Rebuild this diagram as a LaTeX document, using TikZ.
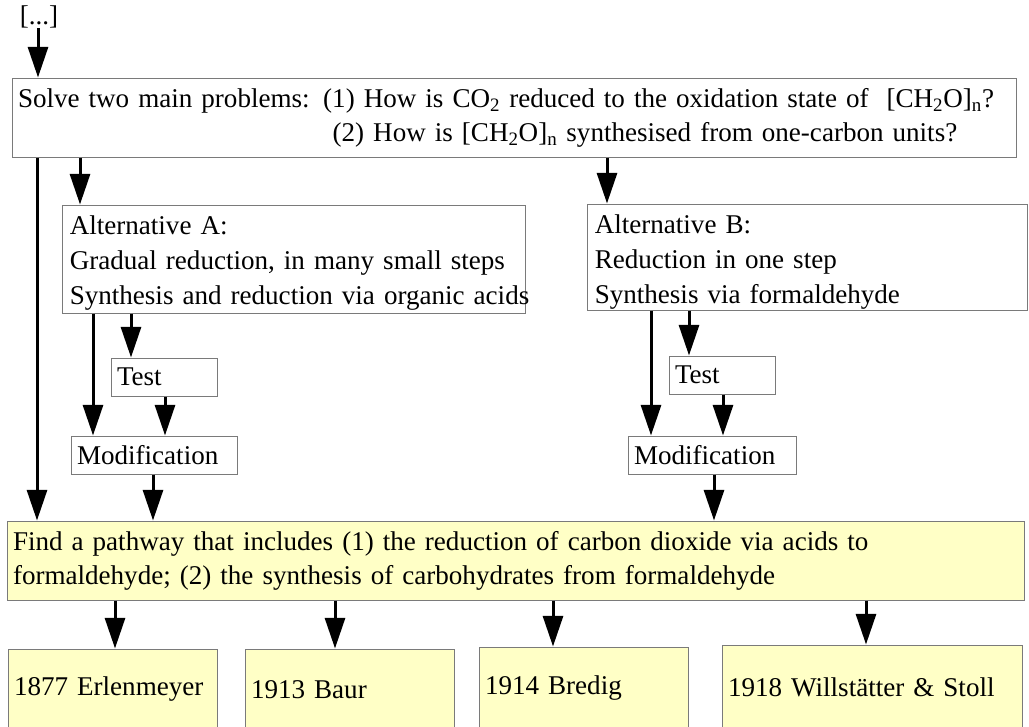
\documentclass[tikz,border=0pt]{standalone}
\usepackage{fontspec}
\setmainfont{Liberation Serif}
\usetikzlibrary{arrows.meta,calc}
\definecolor{boxfill}{HTML}{FFFFC6}
\definecolor{boxline}{HTML}{7A7A7A}
\newcommand{\oneline}[1]{\mbox{#1}}
\begin{document}
\begin{tikzpicture}[x=0.75pt,y=-0.75pt,
  font=\fontsize{20.3pt}{25.5pt}\selectfont,
  box/.style={draw=boxline, line width=0.75pt, fill=white, inner xsep=4.5pt, inner ysep=0pt, anchor=center,
    execute at begin node={\raggedright}},
  ybox/.style={box, fill=boxfill},
  inbox/.style={anchor=north west, inner sep=0pt, text width=330pt, font=\fontsize{20.3pt}{26.25pt}\selectfont,
    execute at begin node={\raggedright}},
  arr/.style={line width=2.25pt, -{Triangle[length=23pt,width=15pt]}}]
\useasboundingbox (0,0) rectangle (1029,726);
\fill[white] (0,0) rectangle (1029,726);

\node[inner sep=0pt] (dots) at (39,17) {[...]};

\node[box, minimum width=753pt, minimum height=59.25pt, text width=744pt] (top) at (514,117.5)
 {\oneline{Solve two main problems: (1) How is CO\textsubscript{2} reduced to the oxidation state of\ \ [CH\textsubscript{2}O]\textsubscript{n}?}\\
  \oneline{\hspace*{236pt}(2) How is [CH\textsubscript{2}O]\textsubscript{n} synthesised from one-carbon units?}};

\node[box, minimum width=347.25pt, minimum height=81pt] (altA) at (293.5,259) {};
\node[inbox] (altAtext) at ($(altA.north west)+(8,11)$)
 {\oneline{Alternative A:}\\\oneline{Gradual reduction, in many small steps}\\\oneline{Synthesis and reduction via organic acids}};
\node[box, minimum width=330pt, minimum height=79.5pt] (altB) at (807,257) {};
\node[inbox] (altBtext) at ($(altB.north west)+(8,11)$)
 {\oneline{Alternative B:}\\\oneline{Reduction in one step}\\\oneline{Synthesis via formaldehyde}};

\node[box, minimum width=79.5pt, minimum height=28.5pt, text width=70.5pt] (testA) at (164,377) {Test};
\node[box, minimum width=124.5pt, minimum height=28.5pt, text width=115.5pt] (modA) at (154,455) {Modification};
\node[box, minimum width=79.5pt, minimum height=28.5pt, text width=70.5pt] (testB) at (722,375) {Test};
\node[box, minimum width=126pt, minimum height=28.5pt, text width=117pt] (modB) at (712,455) {Modification};

\node[ybox, minimum width=762.75pt, minimum height=59.25pt, text width=753.75pt] (find) at (515.5,560.5)
 {\oneline{Find a pathway that includes (1) the reduction of carbon dioxide via acids to}\\\oneline{formaldehyde; (2) the synthesis of carbohydrates from formaldehyde}};

\node[ybox, minimum width=156.75pt, minimum height=60.75pt, text width=147.75pt] (b1) at (112.5,689.5) {\oneline{1877 Erlenmeyer}};
\node[ybox, minimum width=156.75pt, minimum height=60.75pt, text width=147.75pt] (b2) at (349.5,689.5) {\oneline{1913 Baur}};
\node[ybox, minimum width=156.75pt, minimum height=62.25pt, text width=147.75pt] (b3) at (583.5,688.5) {\oneline{1914 Bredig}};
\node[ybox, minimum width=225pt, minimum height=63.75pt, text width=216pt] (b4) at (872,687.5) {\oneline{1918 Willst\"atter \& Stoll}};

\coordinate (x1) at (37,0);
\coordinate (x2) at (80,0);
\coordinate (x3) at (607,0);
\coordinate (x4) at (93,0);
\coordinate (x5) at (131,0);
\coordinate (x6) at (165,0);
\coordinate (x7) at (153,0);
\coordinate (x8) at (651,0);
\coordinate (x9) at (689,0);
\coordinate (x10) at (723,0);
\coordinate (x11) at (714,0);
\coordinate (x12) at (115,0);
\coordinate (x13) at (335,0);
\coordinate (x14) at (553,0);
\coordinate (x15) at (866,0);

\draw[arr] ([xshift=-0.75pt]dots.south) -- ([xshift=-0.75pt]dots.south |- top.north);
\draw[arr] (x1 |- top.south) -- (x1 |- find.north);
\draw[arr] (x2 |- top.south) -- (x2 |- altA.north);
\draw[arr] (x3 |- top.south) -- (x3 |- altB.north);
\draw[arr] (x4 |- altA.south) -- (x4 |- modA.north);
\draw[arr] (x5 |- altA.south) -- (x5 |- testA.north);
\draw[arr] (x6 |- testA.south) -- (x6 |- modA.north);
\draw[arr] (x7 |- modA.south) -- (x7 |- find.north);
\draw[arr] (x8 |- altB.south) -- (x8 |- modB.north);
\draw[arr] (x9 |- altB.south) -- (x9 |- testB.north);
\draw[arr] (x10 |- testB.south) -- (x10 |- modB.north);
\draw[arr] (x11 |- modB.south) -- (x11 |- find.north);
\draw[arr] (x12 |- find.south) -- (x12 |- b1.north);
\draw[arr] (x13 |- find.south) -- (x13 |- b2.north);
\draw[arr] (x14 |- find.south) -- (x14 |- b3.north);
\draw[arr] (x15 |- find.south) -- (x15 |- b4.north);
\end{tikzpicture}
\end{document}
